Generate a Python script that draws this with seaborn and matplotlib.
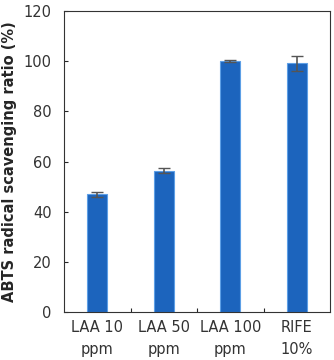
import matplotlib
matplotlib.use("Agg")
import matplotlib.pyplot as plt
import seaborn as sns
import pandas as pd

categories = ["LAA 10\nppm", "LAA 50\nppm", "LAA 100\nppm", "RIFE\n10%"]
ratio = [47.0, 56.3, 100.0, 99.2]
ratio_err = [1.0, 1.0, 0.4, 3.0]

df = pd.DataFrame({"sample": categories, "ratio": ratio, "err": ratio_err})

sns.set_style("white")
plt.rcParams["font.family"] = ["DejaVu Sans"]

fig = plt.figure(figsize=(3.34, 3.6), dpi=100)
ax = fig.add_axes([0.192, 0.133, 0.796, 0.836])

sns.barplot(data=df, x="sample", y="ratio", color="#1c64bd", saturation=1, width=0.3,
            edgecolor="#5d9fe6", linewidth=0.8, errorbar=None, ax=ax)

for i, (v, e) in enumerate(zip(df["ratio"], df["err"])):
    ax.errorbar(i, v, yerr=e, fmt="none", ecolor="#555555", elinewidth=1.2,
                capsize=4, capthick=1.0)

ax.set_xlim(-0.5, 3.5)
ax.set_ylim(0, 120)
ax.set_yticks(range(0, 121, 20))
ax.set_xticks([0.5, 1.5, 2.5], minor=True)
ax.tick_params(axis="x", which="major", length=0, labelsize=10.5, pad=6,
               labelcolor="#333333")
ax.tick_params(axis="x", which="minor", direction="in", length=3, bottom=True, width=0.8)
ax.tick_params(axis="y", direction="in", length=3, left=True, labelsize=10.5, width=0.8,
               labelcolor="#333333", pad=9)
for lbl in ax.get_xticklabels():
    lbl.set_linespacing(1.55)
ax.set_xlabel("")
ax.set_ylabel("ABTS radical scavenging ratio (%)", fontsize=10.5, fontweight="bold",
              labelpad=5)

for s in ax.spines.values():
    s.set_color("#333333")
    s.set_linewidth(0.8)

fig.savefig("out.png", dpi=100)
